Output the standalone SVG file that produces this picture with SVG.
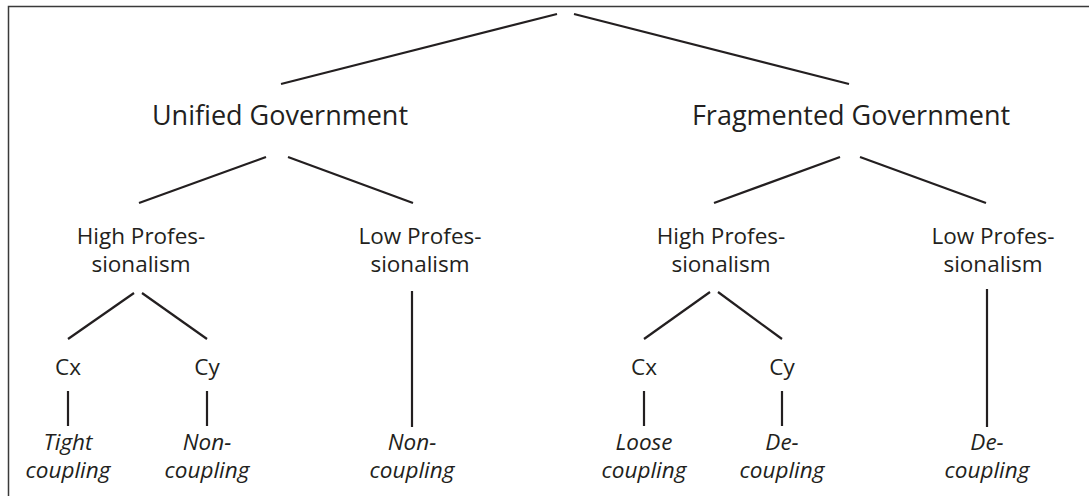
<svg xmlns="http://www.w3.org/2000/svg" width="1089" height="496" viewBox="0 0 1089 496">
<style>
text{font-family:"Open Sans","Noto Sans","Liberation Sans",sans-serif;fill:#231f20;text-anchor:middle}
.l1{font-size:27px}
.l2{font-size:22.5px}
.lf{font-size:22.5px;font-style:italic}
#connectors line{stroke:#231f20;stroke-width:2.2;stroke-linecap:butt}
</style>
<rect width="1089" height="496" fill="#fff"/>
<path d="M8.5 520 V6.5 H1100" fill="none" stroke="#3a3a3a" stroke-width="1.5"/>
<g id="connectors">
<line x1="281" y1="84" x2="557" y2="14"/>
<line x1="574" y1="14" x2="849" y2="84"/>
<line x1="266" y1="157" x2="139" y2="203"/>
<line x1="288" y1="157" x2="413" y2="203"/>
<line x1="840" y1="157" x2="714" y2="203"/>
<line x1="860" y1="157" x2="986" y2="203"/>
<line x1="134" y1="293" x2="68" y2="339"/>
<line x1="142" y1="293" x2="207" y2="339"/>
<line x1="710" y1="292" x2="644" y2="339"/>
<line x1="718" y1="292" x2="782" y2="339"/>
<line x1="412" y1="291" x2="412" y2="427"/>
<line x1="987" y1="289" x2="987" y2="427"/>
<line x1="68" y1="391" x2="68" y2="426"/>
<line x1="207" y1="391" x2="207" y2="426"/>
<line x1="644" y1="391" x2="644" y2="426"/>
<line x1="782" y1="391" x2="782" y2="426"/>
</g>
<g id="unified"><text class="l1" x="280" y="125">Unified Government</text></g>
<g id="fragmented"><text class="l1" x="851" y="125">Fragmented Government</text></g>
<g id="u-high"><text class="l2" x="141" y="244">High Profes-</text><text class="l2" x="141" y="272">sionalism</text></g>
<g id="u-low"><text class="l2" x="420" y="244">Low Profes-</text><text class="l2" x="420" y="272">sionalism</text></g>
<g id="f-high"><text class="l2" x="721" y="244">High Profes-</text><text class="l2" x="721" y="272">sionalism</text></g>
<g id="f-low"><text class="l2" x="993" y="244">Low Profes-</text><text class="l2" x="993" y="272">sionalism</text></g>
<g id="u-cx"><text class="l2" x="68" y="375">Cx</text></g>
<g id="u-cy"><text class="l2" x="207" y="375">Cy</text></g>
<g id="f-cx"><text class="l2" x="644" y="375">Cx</text></g>
<g id="f-cy"><text class="l2" x="782" y="375">Cy</text></g>
<g id="leaf-tight"><text class="lf" x="68" y="450">Tight</text><text class="lf" x="68" y="478">coupling</text></g>
<g id="leaf-non1"><text class="lf" x="207" y="450">Non-</text><text class="lf" x="207" y="478">coupling</text></g>
<g id="leaf-non2"><text class="lf" x="412" y="450">Non-</text><text class="lf" x="412" y="478">coupling</text></g>
<g id="leaf-loose"><text class="lf" x="644" y="450">Loose</text><text class="lf" x="644" y="478">coupling</text></g>
<g id="leaf-de1"><text class="lf" x="782" y="450">De-</text><text class="lf" x="782" y="478">coupling</text></g>
<g id="leaf-de2"><text class="lf" x="987" y="450">De-</text><text class="lf" x="987" y="478">coupling</text></g>
</svg>
